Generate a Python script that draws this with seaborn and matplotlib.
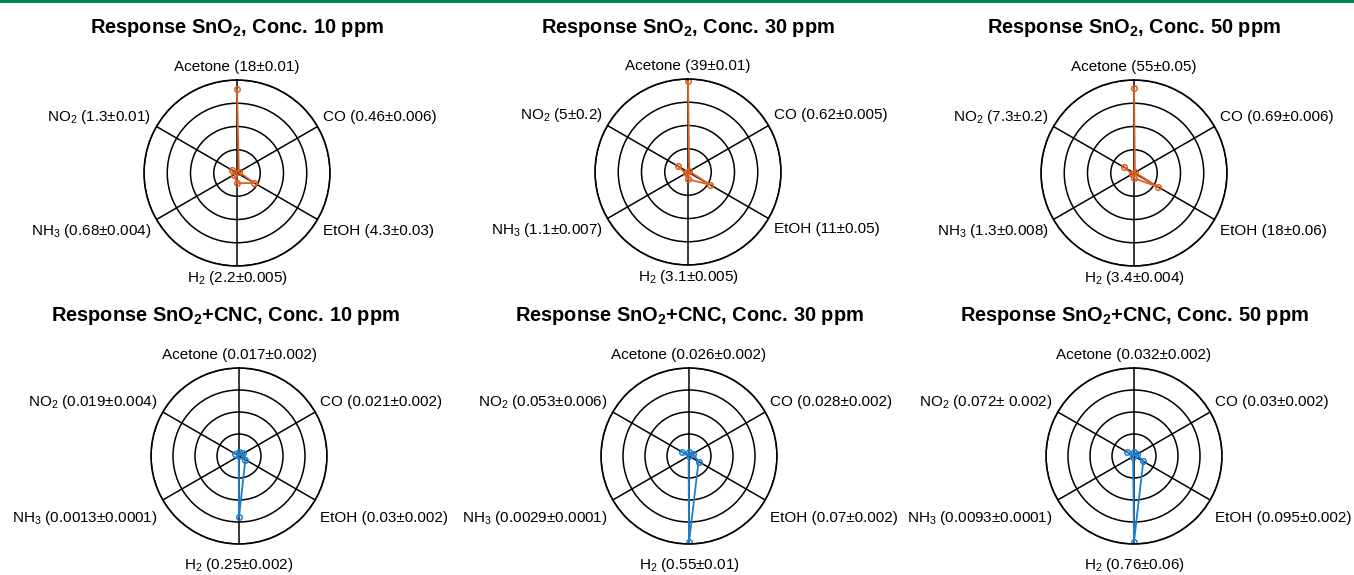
import numpy as np
import pandas as pd
import seaborn as sns
import matplotlib.pyplot as plt
from matplotlib.patches import Rectangle

# Gases, clockwise from the top spoke
gases = ["Acetone", "CO", "EtOH", "H$_2$", "NH$_3$", "NO$_2$"]
conc_ppm = [10, 30, 50]

# SnO2 responses (value, error as printed)
sno2_10 = [18, 0.46, 4.3, 2.2, 0.68, 1.3]
sno2_10_err = ["0.01", "0.006", "0.03", "0.005", "0.004", "0.01"]
sno2_30 = [39, 0.62, 11, 3.1, 1.1, 5]
sno2_30_err = ["0.01", "0.005", "0.05", "0.005", "0.007", "0.2"]
sno2_50 = [55, 0.69, 18, 3.4, 1.3, 7.3]
sno2_50_err = ["0.05", "0.006", "0.06", "0.004", "0.008", "0.2"]

# SnO2+CNC responses
cnc_10 = [0.017, 0.021, 0.03, 0.25, 0.0013, 0.019]
cnc_10_err = ["0.002", "0.002", "0.002", "0.002", "0.0001", "0.004"]
cnc_30 = [0.026, 0.028, 0.07, 0.55, 0.0029, 0.053]
cnc_30_err = ["0.002", "0.002", "0.002", "0.01", "0.0001", "0.006"]
cnc_50 = [0.032, 0.03, 0.095, 0.76, 0.0093, 0.072]
cnc_50_err = ["0.002", "0.002", "0.002", "0.06", "0.0001", " 0.002"]

# outer ring value of each panel
sno2_rmax = [20, 40, 60]
cnc_rmax = [0.36, 0.56, 0.78]

sns.set_style("white")
plt.rcParams["font.family"] = ["Liberation Sans", "DejaVu Sans"]
plt.rcParams["text.color"] = "black"
plt.rcParams["mathtext.fontset"] = "custom"
plt.rcParams["mathtext.rm"] = "Liberation Sans"
plt.rcParams["mathtext.it"] = "Liberation Sans:italic"
plt.rcParams["mathtext.bf"] = "Liberation Sans:bold"

W, H = 1354, 575
fig = plt.figure(figsize=(W / 100, H / 100), dpi=100)

# green rule along the top edge
fig.add_artist(Rectangle((0, 1 - 3 / H), 1, 3 / H, transform=fig.transFigure,
                         color="#00894F", lw=0))

angles = np.deg2rad(np.arange(len(gases)) * 60)

panels = [
    (sno2_10, sno2_10_err, sno2_rmax[0], "Response SnO$_\\mathbf{2}$, Conc. 10 ppm", "#E0601F", 237, 173, 93, 237, 33),
    (sno2_30, sno2_30_err, sno2_rmax[1], "Response SnO$_\\mathbf{2}$, Conc. 30 ppm", "#E0601F", 688, 172, 93, 688, 33),
    (sno2_50, sno2_50_err, sno2_rmax[2], "Response SnO$_\\mathbf{2}$, Conc. 50 ppm", "#E0601F", 1134, 173, 93, 1134, 33),
    (cnc_10, cnc_10_err, cnc_rmax[0], "Response SnO$_\\mathbf{2}$+CNC, Conc. 10 ppm", "#1F7FCB", 239, 456, 88, 225, 321),
    (cnc_30, cnc_30_err, cnc_rmax[1], "Response SnO$_\\mathbf{2}$+CNC, Conc. 30 ppm", "#1F7FCB", 689, 456, 88, 689, 321),
    (cnc_50, cnc_50_err, cnc_rmax[2], "Response SnO$_\\mathbf{2}$+CNC, Conc. 50 ppm", "#1F7FCB", 1134, 456, 88, 1134, 321),
]

# label placement per spoke: (dx, dy) pixels from spoke end, ha, va
place = [((0, 6), "center", "bottom"),
         ((5, 10), "left", "center"),
         ((5, -11), "left", "center"),
         ((0, -3), "center", "top"),
         ((-5, -11), "right", "center"),
         ((-5, 10), "right", "center")]

for vals, errs, rmax, title, color, cx, cy, R, tx, ty in panels:
    ax = fig.add_axes([(cx - R) / W, 1 - (cy + R) / H, 2 * R / W, 2 * R / H],
                      projection="polar")
    ax.set_theta_zero_location("N")
    ax.set_theta_direction(-1)

    df = pd.DataFrame({"theta": np.append(angles, angles[0]),
                       "r": list(vals) + [vals[0]]})
    sns.lineplot(data=df, x="theta", y="r", sort=False, ax=ax, color=color,
                 linewidth=1.3, marker="o", markersize=4,
                 markerfacecolor="none", markeredgecolor=color,
                 markeredgewidth=1.1)

    ax.set_ylim(0, rmax)
    ax.set_yticks(rmax * np.array([0.25, 0.5, 0.75, 1.0]))
    ax.set_yticklabels([])
    ax.set_xticks(angles)
    ax.set_xticklabels([])
    ax.grid(True, color="black", linewidth=1.1)
    ax.spines["polar"].set_color("black")
    ax.spines["polar"].set_linewidth(1.2)
    ax.set_xlabel("")
    ax.set_ylabel("")

    bottom_row = cy > 300
    for i, gas in enumerate(gases):
        off, ha, va = place[i]
        if bottom_row and i == 3:
            off = (0, -12)
        elif bottom_row and i in (2, 4):
            off = (off[0], -18)
        ax.annotate(f"{gas} ({vals[i]:g}±{errs[i]})", xy=(angles[i], rmax),
                    xytext=off, textcoords="offset pixels",
                    ha=ha, va=va, fontsize=11, annotation_clip=False)

    fig.text(tx / W, 1 - ty / H, title, ha="center", va="baseline",
             fontsize=14.4, fontweight="bold")

fig.savefig("out.png", dpi=100)
plt.close(fig)
